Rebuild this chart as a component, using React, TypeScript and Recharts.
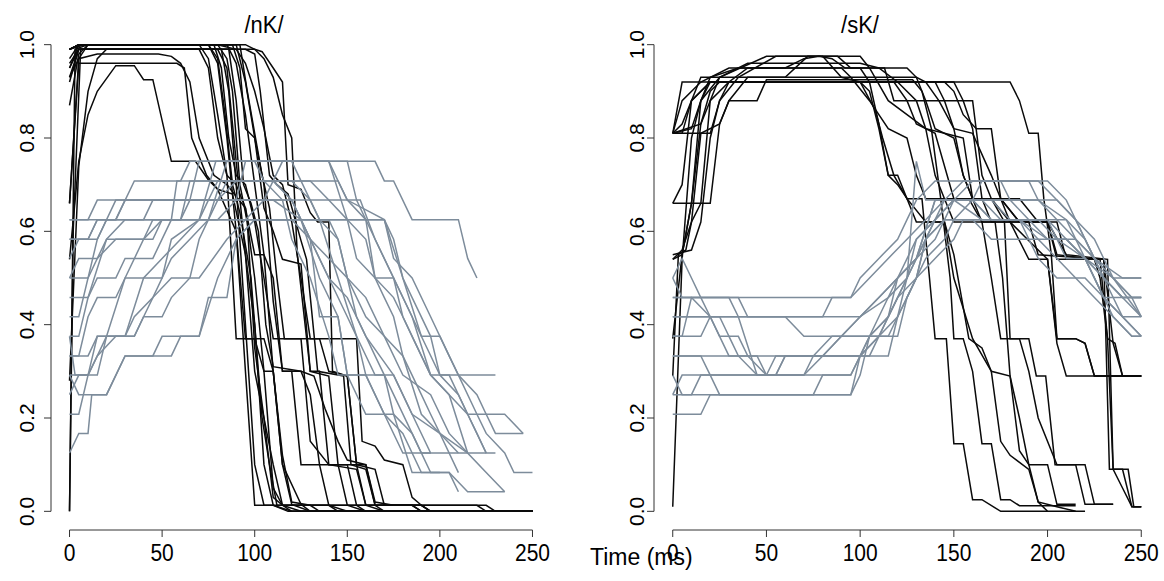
import React from "react"
import { LineChart, Line, XAxis, YAxis, ReferenceLine } from "recharts"

type Pt = [number, number]

const timeTicks = [0, 50, 100, 150, 200, 250]
const valueTicks = [0, 0.2, 0.4, 0.6, 0.8, 1]
const panelTitles = ["/nK/", "/sK/"]
const xLabel = "Time (ms)"

// /nK/ — black trajectories
const nkBlack: Pt[][] = [
  [[0, 0.99], [5, 1], [70, 1], [75, 0.97], [80, 0.85], [85, 0.72], [90, 0.37], [100, 0.37], [105, 0.3], [110, 0.05], [115, 0.013], [220, 0.013], [225, 0], [250, 0]],
  [[0, 0], [3, 0.99], [10, 1], [75, 1], [80, 0.96], [85, 0.8], [90, 0.6], [95, 0.3], [100, 0.013], [185, 0.013], [190, 0], [250, 0]],
  [[0, 0.28], [5, 0.74], [10, 0.9], [15, 0.97], [20, 0.99], [80, 0.99], [85, 0.95], [90, 0.75], [95, 0.55], [100, 0.4], [105, 0.1], [110, 0.013], [120, 0], [250, 0]],
  [[0, 0.54], [5, 0.75], [10, 0.85], [15, 0.9], [25, 0.955], [35, 0.955], [40, 0.925], [45, 0.925], [55, 0.75], [68, 0.75], [75, 0.71], [80, 0.69], [90, 0.6], [95, 0.37], [105, 0.37], [110, 0.3], [115, 0.1], [120, 0.015], [130, 0], [250, 0]],
  [[0, 0.66], [5, 0.96], [58, 0.96], [62, 0.95], [66, 0.8], [74, 0.72], [80, 0.69], [88, 0.68], [95, 0.55], [100, 0.3], [110, 0.1], [115, 0.013], [125, 0], [250, 0]],
  [[0, 0.93], [5, 0.97], [15, 0.98], [48, 0.98], [55, 0.975], [60, 0.96], [65, 0.92], [70, 0.8], [78, 0.72], [85, 0.7], [95, 0.65], [100, 0.5], [105, 0.3], [110, 0.3], [115, 0.1], [125, 0.015], [130, 0], [250, 0]],
  [[0, 0.96], [5, 0.99], [100, 0.99], [104, 0.985], [110, 0.95], [115, 0.92], [118, 0.7], [125, 0.69], [130, 0.64], [134, 0.62], [140, 0.62], [142, 0.3], [150, 0.29], [155, 0.1], [160, 0.1], [165, 0.013], [185, 0.013], [190, 0], [250, 0]],
  [[0, 0.87], [5, 0.98], [10, 1], [88, 1], [92, 0.95], [95, 0.82], [100, 0.8], [105, 0.7], [110, 0.45], [115, 0.3], [125, 0.3], [130, 0.25], [135, 0.1], [145, 0.1], [150, 0.013], [160, 0], [250, 0]],
  [[0, 0.95], [5, 1], [78, 1], [82, 0.95], [86, 0.8], [90, 0.72], [95, 0.7], [100, 0.62], [105, 0.5], [110, 0.37], [135, 0.37], [140, 0.3], [150, 0.29], [155, 0.1], [165, 0.09], [170, 0.013], [190, 0.013], [195, 0]],
  [[0, 0.99], [5, 1], [85, 1], [90, 0.96], [95, 0.85], [100, 0.7], [105, 0.55], [110, 0.5], [115, 0.3], [120, 0.3], [125, 0.1], [135, 0.1], [140, 0.013], [150, 0], [250, 0]],
  [[0, 0.92], [5, 0.99], [82, 0.99], [86, 0.9], [90, 0.7], [95, 0.65], [100, 0.55], [105, 0.55], [110, 0.3], [115, 0.12], [120, 0.02], [130, 0.013], [135, 0], [200, 0]],
  [[0, 0.66], [5, 0.97], [10, 1], [90, 1], [95, 0.92], [100, 0.8], [105, 0.65], [110, 0.6], [115, 0.54], [125, 0.53], [130, 0.3], [140, 0.29], [145, 0.1], [155, 0.1], [160, 0.013], [170, 0], [250, 0]],
  [[0, 0.99], [8, 1], [80, 1], [85, 0.97], [88, 0.9], [92, 0.7], [96, 0.62], [100, 0.35], [105, 0.2], [110, 0.03], [115, 0.013], [120, 0], [250, 0]],
  [[0, 0.99], [5, 1], [92, 1], [96, 0.9], [100, 0.81], [104, 0.72], [108, 0.65], [112, 0.5], [116, 0.37], [125, 0.37], [130, 0.15], [140, 0.1], [155, 0.09], [160, 0.013], [225, 0.013], [230, 0]],
  [[0, 0.97], [5, 1], [75, 1], [80, 0.97], [84, 0.85], [88, 0.7], [92, 0.64], [98, 0.5], [104, 0.2], [108, 0.1], [112, 0.013], [140, 0.013], [145, 0], [250, 0]],
  [[0, 0], [2, 0.6], [6, 0.99], [95, 0.99], [100, 0.98], [103, 0.9], [108, 0.72], [112, 0.7], [118, 0.68], [125, 0.58], [128, 0.54], [134, 0.3], [148, 0.29], [152, 0.1], [160, 0.09], [165, 0.013], [170, 0], [250, 0]],
  [[0, 0.93], [5, 0.99], [86, 0.99], [90, 0.88], [94, 0.7], [98, 0.66], [102, 0.6], [106, 0.4], [110, 0.31], [125, 0.3], [132, 0.29], [138, 0.22], [145, 0.15], [150, 0.11], [160, 0.1], [165, 0.02], [175, 0.013], [190, 0.013], [195, 0]],
  [[0, 0.99], [5, 1], [80, 1], [90, 0.99], [95, 0.96], [100, 0.9], [105, 0.82], [110, 0.72], [115, 0.7], [120, 0.62], [125, 0.5], [130, 0.37], [155, 0.37], [158, 0.15], [165, 0.14], [170, 0.11], [180, 0.1], [185, 0.03], [190, 0.013], [195, 0]],
  [[0, 0.95], [5, 0.99], [70, 0.99], [75, 0.95], [80, 0.8], [85, 0.72], [90, 0.7], [95, 0.4], [100, 0.1], [105, 0.013], [110, 0.013], [118, 0], [250, 0]],
  [[0, 0.99], [5, 1], [95, 1], [100, 0.99], [105, 0.97], [110, 0.93], [115, 0.85], [120, 0.8], [123, 0.55], [130, 0.3], [135, 0.3], [140, 0.1], [150, 0.1], [155, 0.013], [160, 0], [250, 0]],
]

// /nK/ — grey trajectories
const nkGrey: Pt[][] = [
  [[0, 0.125], [5, 0.167], [10, 0.167], [12, 0.25], [20, 0.25], [30, 0.333], [55, 0.333], [60, 0.375], [70, 0.375], [75, 0.458], [85, 0.458], [90, 0.583], [100, 0.625], [140, 0.625], [145, 0.583], [150, 0.5], [155, 0.417], [165, 0.333], [170, 0.292], [175, 0.208], [185, 0.167], [190, 0.125], [195, 0.125]],
  [[0, 0.5], [10, 0.5], [15, 0.542], [25, 0.583], [45, 0.583], [50, 0.625], [70, 0.625], [79, 0.75], [165, 0.75], [170, 0.708], [175, 0.708], [185, 0.625], [210, 0.625], [215, 0.542], [220, 0.5]],
  [[0, 0.417], [5, 0.417], [15, 0.583], [20, 0.625], [40, 0.625], [45, 0.667], [65, 0.667], [70, 0.75], [140, 0.75], [145, 0.708], [150, 0.667], [170, 0.625], [175, 0.583], [180, 0.5], [190, 0.375], [200, 0.292], [230, 0.292]],
  [[0, 0.292], [10, 0.292], [15, 0.333], [20, 0.375], [35, 0.375], [40, 0.417], [50, 0.417], [55, 0.458], [65, 0.5], [70, 0.583], [75, 0.625], [85, 0.708], [145, 0.708], [150, 0.667], [160, 0.625], [165, 0.5], [175, 0.458], [180, 0.417], [185, 0.375], [195, 0.292], [205, 0.25], [215, 0.208], [225, 0.208], [230, 0.167], [245, 0.167]],
  [[0, 0.375], [5, 0.375], [10, 0.458], [15, 0.5], [25, 0.5], [30, 0.542], [45, 0.542], [55, 0.625], [58, 0.708], [110, 0.708], [120, 0.667], [130, 0.583], [135, 0.417], [145, 0.417], [150, 0.292], [175, 0.292], [185, 0.208], [195, 0.125], [215, 0.125]],
  [[0, 0.625], [10, 0.625], [15, 0.667], [110, 0.667], [125, 0.625], [130, 0.583], [140, 0.5], [150, 0.417], [155, 0.375], [160, 0.292], [170, 0.208], [180, 0.167], [190, 0.083], [205, 0.083], [210, 0.042]],
  [[0, 0.583], [15, 0.583], [25, 0.667], [80, 0.667], [90, 0.708], [120, 0.708], [130, 0.667], [157, 0.667], [165, 0.583], [175, 0.5], [185, 0.417], [190, 0.375], [200, 0.375], [205, 0.333], [210, 0.292], [220, 0.208], [225, 0.167], [235, 0.125], [240, 0.083], [250, 0.083]],
  [[0, 0.333], [5, 0.333], [10, 0.417], [15, 0.458], [25, 0.458], [30, 0.5], [40, 0.583], [50, 0.625], [70, 0.625], [75, 0.667], [120, 0.667], [125, 0.625], [135, 0.5], [145, 0.417], [150, 0.292], [160, 0.208], [175, 0.208], [185, 0.083], [205, 0.083], [215, 0.042], [235, 0.042]],
  [[0, 0.25], [5, 0.292], [15, 0.292], [20, 0.375], [30, 0.375], [40, 0.5], [50, 0.542], [60, 0.583], [70, 0.625], [170, 0.625], [180, 0.5], [185, 0.458], [195, 0.375], [200, 0.292], [210, 0.25], [215, 0.208], [225, 0.125]],
  [[0, 0.208], [5, 0.208], [10, 0.292], [15, 0.333], [25, 0.375], [35, 0.375], [40, 0.417], [45, 0.458], [55, 0.5], [70, 0.5], [85, 0.583], [95, 0.625], [105, 0.667], [115, 0.75], [150, 0.75], [155, 0.667], [165, 0.583], [175, 0.5], [180, 0.417], [190, 0.333], [195, 0.292], [205, 0.25], [215, 0.125], [225, 0.083], [235, 0.042]],
  [[0, 0.5], [5, 0.542], [15, 0.542], [20, 0.583], [30, 0.625], [60, 0.625], [65, 0.667], [90, 0.667], [95, 0.75], [140, 0.75], [150, 0.625], [160, 0.583], [165, 0.5], [170, 0.458], [175, 0.417], [180, 0.333], [190, 0.25], [195, 0.208], [200, 0.167], [210, 0.125]],
  [[0, 0.542], [5, 0.583], [10, 0.583], [15, 0.625], [25, 0.625], [30, 0.667], [75, 0.667], [80, 0.708], [130, 0.708], [140, 0.667], [150, 0.625], [155, 0.542], [165, 0.5], [175, 0.5], [185, 0.417], [195, 0.292], [205, 0.292], [215, 0.208], [220, 0.167], [225, 0.125], [230, 0.125]],
  [[0, 0.333], [10, 0.333], [15, 0.375], [30, 0.375], [35, 0.417], [45, 0.458], [55, 0.542], [65, 0.583], [75, 0.625], [85, 0.75], [120, 0.75], [125, 0.708], [135, 0.625], [145, 0.5], [155, 0.375], [165, 0.292], [170, 0.292], [185, 0.167], [195, 0.083], [200, 0.083]],
  [[0, 0.375], [3, 0.292], [10, 0.292], [15, 0.375], [20, 0.375], [30, 0.5], [50, 0.5], [55, 0.583], [70, 0.625], [80, 0.625], [90, 0.667], [130, 0.667], [135, 0.625], [145, 0.583], [150, 0.5], [160, 0.458], [170, 0.375], [180, 0.292], [195, 0.25], [205, 0.167], [215, 0.125]],
  [[0, 0.458], [10, 0.458], [20, 0.583], [40, 0.583], [45, 0.625], [60, 0.625], [65, 0.708], [110, 0.708], [120, 0.667], [130, 0.583], [140, 0.542], [150, 0.5], [160, 0.417], [170, 0.375], [180, 0.333], [190, 0.208], [200, 0.167], [215, 0.125], [225, 0.125]],
  [[0, 0.625], [170, 0.625], [175, 0.542], [185, 0.5], [195, 0.417], [205, 0.333], [210, 0.292], [220, 0.25], [225, 0.208], [235, 0.208], [245, 0.167]],
  [[0, 0.583], [10, 0.583], [15, 0.625], [25, 0.625], [35, 0.708], [60, 0.708], [65, 0.75], [100, 0.75], [105, 0.708], [115, 0.667], [120, 0.583], [130, 0.5], [140, 0.375], [145, 0.292], [160, 0.292], [170, 0.208], [180, 0.125], [195, 0.125]],
  [[0, 0.292], [5, 0.25], [20, 0.25], [30, 0.333], [45, 0.333], [50, 0.375], [70, 0.375], [80, 0.5], [90, 0.583], [100, 0.625], [120, 0.625], [130, 0.583], [140, 0.5], [150, 0.458], [160, 0.375], [175, 0.292], [185, 0.208], [200, 0.167], [210, 0.083]],
]

// /sK/ — black trajectories
const skBlack: Pt[][] = [
  [[0, 0.81], [5, 0.92], [180, 0.92], [185, 0.88], [190, 0.81], [195, 0.81], [198, 0.67], [202, 0.55], [205, 0.37], [215, 0.37], [220, 0.36], [225, 0.29], [250, 0.29]],
  [[0, 0.81], [20, 0.81], [25, 0.88], [30, 0.92], [40, 0.95], [100, 0.95], [105, 0.92], [110, 0.83], [115, 0.72], [120, 0.72], [125, 0.67], [133, 0.67], [137, 0.5], [140, 0.37], [146, 0.37], [150, 0.145], [155, 0.145], [160, 0.025], [165, 0.025], [175, 0], [200, 0]],
  [[0, 0.66], [20, 0.66], [25, 0.83], [30, 0.88], [45, 0.88], [50, 0.925], [128, 0.925], [133, 0.9], [138, 0.82], [143, 0.67], [148, 0.5], [150, 0.37], [155, 0.37], [160, 0.3], [165, 0.145], [170, 0.145], [175, 0.025], [180, 0.025], [185, 0.012], [215, 0.012]],
  [[0, 0.54], [5, 0.55], [10, 0.66], [15, 0.83], [20, 0.9], [25, 0.92], [118, 0.92], [125, 0.88], [130, 0.83], [140, 0.81], [150, 0.67], [158, 0.67], [165, 0.62], [172, 0.62], [176, 0.5], [180, 0.29], [185, 0.13], [190, 0.1], [195, 0.02], [200, 0], [220, 0]],
  [[0, 0.81], [5, 0.81], [10, 0.88], [15, 0.93], [60, 0.93], [72, 0.975], [88, 0.975], [95, 0.95], [113, 0.95], [118, 0.88], [160, 0.88], [165, 0.72], [170, 0.67], [177, 0.62], [180, 0.37], [190, 0.37], [194, 0.29], [199, 0.29], [204, 0.1], [220, 0.1], [225, 0.015], [235, 0.015]],
  [[0, 0.37], [5, 0.55], [10, 0.66], [15, 0.88], [25, 0.93], [50, 0.975], [100, 0.975], [105, 0.95], [115, 0.88], [125, 0.85], [135, 0.82], [145, 0.81], [155, 0.8], [160, 0.67], [170, 0.67], [180, 0.62], [200, 0.62], [205, 0.54], [228, 0.54], [232, 0.37], [235, 0.09], [243, 0.09], [246, 0.01], [250, 0.01]],
  [[0, 0.29], [3, 0.55], [7, 0.56], [10, 0.62], [15, 0.66], [20, 0.88], [30, 0.92], [140, 0.92], [145, 0.88], [150, 0.82], [155, 0.72], [160, 0.67], [185, 0.67], [195, 0.62], [205, 0.62], [210, 0.54], [230, 0.54], [235, 0.36], [240, 0.29], [250, 0.29]],
  [[0, 0.01], [5, 0.54], [10, 0.8], [15, 0.88], [20, 0.92], [150, 0.92], [155, 0.88], [160, 0.82], [165, 0.67], [170, 0.62], [180, 0.62], [190, 0.58], [200, 0.54], [205, 0.37], [215, 0.37], [220, 0.36], [225, 0.29], [250, 0.29]],
  [[0, 0.81], [15, 0.83], [20, 0.88], [25, 0.93], [40, 0.96], [100, 0.96], [110, 0.95], [120, 0.92], [130, 0.88], [135, 0.82], [140, 0.72], [145, 0.67], [160, 0.67], [165, 0.62], [190, 0.62], [195, 0.55], [230, 0.54], [233, 0.09], [240, 0.09], [245, 0.01], [250, 0.01]],
  [[0, 0.55], [10, 0.56], [15, 0.62], [20, 0.8], [25, 0.88], [35, 0.93], [55, 0.975], [80, 0.975], [90, 0.93], [100, 0.92], [108, 0.86], [112, 0.8], [118, 0.72], [125, 0.67], [130, 0.62], [145, 0.62], [150, 0.55], [158, 0.37], [165, 0.35], [170, 0.3], [175, 0.15], [180, 0.12], [190, 0.09], [195, 0.02], [205, 0.01], [215, 0]],
  [[0, 0.81], [10, 0.82], [15, 0.88], [20, 0.93], [35, 0.95], [60, 0.95], [70, 0.97], [78, 0.975], [85, 0.97], [92, 0.95], [125, 0.95], [130, 0.93], [135, 0.88], [140, 0.82], [150, 0.8], [155, 0.72], [160, 0.67], [175, 0.67], [180, 0.62], [190, 0.54], [200, 0.54], [205, 0.36], [210, 0.29], [250, 0.29]],
  [[0, 0.66], [5, 0.7], [10, 0.88], [20, 0.92], [100, 0.92], [105, 0.9], [110, 0.82], [115, 0.72], [120, 0.7], [125, 0.67], [135, 0.62], [145, 0.62], [150, 0.5], [160, 0.37], [170, 0.3], [180, 0.29], [185, 0.2], [190, 0.1], [200, 0.1], [205, 0.015], [215, 0.015]],
  [[0, 0.54], [5, 0.56], [10, 0.62], [15, 0.81], [25, 0.83], [30, 0.88], [40, 0.93], [130, 0.93], [135, 0.92], [142, 0.88], [150, 0.82], [160, 0.81], [170, 0.72], [175, 0.67], [185, 0.62], [200, 0.62], [205, 0.55], [225, 0.54], [228, 0.5], [232, 0.37], [236, 0.36], [240, 0.29], [250, 0.29]],
  [[0, 0.81], [5, 0.88], [15, 0.92], [30, 0.95], [90, 0.95], [95, 0.93], [105, 0.88], [115, 0.82], [125, 0.8], [130, 0.72], [135, 0.67], [145, 0.67], [150, 0.62], [165, 0.62], [170, 0.5], [175, 0.37], [185, 0.37], [190, 0.3], [195, 0.2], [205, 0.1], [215, 0.1], [220, 0.015], [235, 0.015]],
  [[0, 0.81], [5, 0.83], [10, 0.88], [20, 0.92], [145, 0.92], [150, 0.9], [155, 0.85], [162, 0.82], [170, 0.82], [175, 0.67], [185, 0.62], [200, 0.62], [210, 0.55], [232, 0.54], [235, 0.09], [240, 0.05], [245, 0.01], [250, 0.01]],
]

// /sK/ — grey trajectories
const skGrey: Pt[][] = [
  [[0, 0.208], [15, 0.208], [20, 0.25], [95, 0.25], [100, 0.333], [110, 0.375], [120, 0.417], [130, 0.5], [135, 0.583], [145, 0.625], [200, 0.625], [210, 0.583], [220, 0.542], [235, 0.5], [250, 0.417]],
  [[0, 0.25], [5, 0.292], [95, 0.292], [100, 0.333], [110, 0.375], [115, 0.417], [120, 0.5], [130, 0.542], [140, 0.667], [165, 0.667], [175, 0.625], [210, 0.625], [220, 0.583], [230, 0.5], [240, 0.458], [250, 0.458]],
  [[0, 0.5], [5, 0.458], [95, 0.458], [100, 0.5], [110, 0.542], [120, 0.583], [125, 0.625], [130, 0.667], [140, 0.708], [175, 0.708], [180, 0.667], [195, 0.667], [205, 0.625], [215, 0.583], [225, 0.542], [240, 0.5], [250, 0.5]],
  [[0, 0.417], [80, 0.417], [85, 0.458], [95, 0.458], [105, 0.5], [115, 0.542], [125, 0.583], [135, 0.625], [145, 0.667], [180, 0.667], [190, 0.625], [200, 0.625], [210, 0.542], [220, 0.542], [230, 0.458], [235, 0.417], [245, 0.375], [250, 0.375]],
  [[0, 0.333], [115, 0.333], [120, 0.417], [125, 0.5], [130, 0.75], [135, 0.667], [160, 0.667], [170, 0.625], [190, 0.625], [200, 0.583], [210, 0.583], [220, 0.542], [230, 0.458], [240, 0.417], [250, 0.417]],
  [[0, 0.458], [30, 0.458], [35, 0.417], [45, 0.292], [55, 0.292], [60, 0.333], [80, 0.333], [90, 0.375], [100, 0.417], [115, 0.458], [125, 0.5], [130, 0.542], [140, 0.583], [150, 0.667], [160, 0.708], [195, 0.708], [205, 0.667], [215, 0.625], [225, 0.542], [235, 0.5], [245, 0.458], [250, 0.417]],
  [[0, 0.292], [5, 0.25], [95, 0.25], [100, 0.292], [105, 0.375], [115, 0.417], [120, 0.458], [125, 0.5], [135, 0.583], [145, 0.625], [160, 0.625], [170, 0.583], [210, 0.583], [220, 0.542], [230, 0.5], [240, 0.458], [250, 0.458]],
  [[0, 0.375], [15, 0.375], [20, 0.417], [25, 0.417], [30, 0.375], [35, 0.375], [40, 0.333], [50, 0.292], [55, 0.292], [60, 0.333], [75, 0.333], [85, 0.375], [120, 0.375], [125, 0.458], [135, 0.542], [145, 0.583], [150, 0.625], [160, 0.667], [205, 0.667], [215, 0.625], [225, 0.583], [235, 0.5], [245, 0.458], [250, 0.458]],
  [[0, 0.417], [20, 0.417], [25, 0.375], [30, 0.375], [35, 0.333], [45, 0.292], [50, 0.292], [55, 0.333], [105, 0.333], [110, 0.375], [115, 0.417], [125, 0.5], [130, 0.583], [140, 0.625], [150, 0.667], [160, 0.667], [170, 0.625], [185, 0.625], [195, 0.583], [205, 0.542], [215, 0.5], [225, 0.458], [235, 0.417], [245, 0.375], [250, 0.375]],
  [[0, 0.375], [5, 0.375], [10, 0.458], [35, 0.458], [40, 0.417], [100, 0.417], [110, 0.458], [120, 0.5], [130, 0.542], [140, 0.625], [145, 0.667], [155, 0.708], [190, 0.708], [195, 0.667], [210, 0.625], [220, 0.542], [230, 0.5], [240, 0.458], [250, 0.417]],
  [[0, 0.5], [5, 0.542], [10, 0.5], [15, 0.458], [20, 0.417], [25, 0.375], [30, 0.333], [45, 0.333], [50, 0.292], [70, 0.292], [75, 0.333], [100, 0.333], [105, 0.375], [115, 0.417], [120, 0.458], [130, 0.5], [140, 0.542], [150, 0.583], [155, 0.625], [185, 0.625], [195, 0.542], [205, 0.5], [220, 0.5], [230, 0.458], [250, 0.458]],
  [[0, 0.333], [15, 0.333], [20, 0.292], [25, 0.25], [75, 0.25], [80, 0.292], [95, 0.292], [100, 0.333], [110, 0.417], [120, 0.5], [130, 0.542], [140, 0.667], [150, 0.667], [165, 0.625], [185, 0.625], [200, 0.583], [215, 0.583], [225, 0.542], [235, 0.5], [250, 0.5]],
  [[0, 0.458], [10, 0.458], [20, 0.417], [60, 0.417], [70, 0.375], [115, 0.375], [120, 0.417], [125, 0.458], [130, 0.5], [135, 0.583], [140, 0.625], [150, 0.667], [170, 0.667], [180, 0.625], [195, 0.625], [205, 0.583], [220, 0.542], [230, 0.458], [240, 0.417], [250, 0.375]],
  [[0, 0.25], [10, 0.25], [15, 0.292], [70, 0.292], [80, 0.333], [90, 0.375], [100, 0.417], [110, 0.458], [120, 0.5], [130, 0.583], [140, 0.625], [150, 0.667], [160, 0.667], [165, 0.708], [200, 0.708], [210, 0.667], [220, 0.583], [230, 0.5], [240, 0.417], [250, 0.375]],
]

const BLACK = "#0a0a0a"
const GREY = "#7d8c9b"
const FONT = "'Liberation Sans', Arial, Helvetica, sans-serif"

const toRows = (pts: Pt[]) => pts.map(([t, v]) => ({ t, v }))

const XTick = ({ x, y, payload }: any) => (
  <text
    transform={`translate(${x},${y + 22}) scale(1,1.18)`}
    textAnchor="middle"
    fontSize={21}
    fontFamily={FONT}
    fill="#000"
  >
    {payload.value}
  </text>
)

const makeYTick = (gap: number) => ({ x, y, payload }: any) => {
  const bx = x + 9 - gap
  return (
    <text
      transform={`translate(${bx},${y}) rotate(-90)`}
      textAnchor="middle"
      fontSize={21}
      fontFamily={FONT}
      fill="#000"
    >
      {Number(payload.value).toFixed(1)}
    </text>
  )
}

interface PanelProps {
  black: Pt[][]
  grey: Pt[][]
  left: number
  width: number
  yAxisWidth: number
  rightMargin: number
  labelGap: number
}

function Panel({ black, grey, left, width, yAxisWidth, rightMargin, labelGap }: PanelProps) {
  return (
    <div style={{ position: "absolute", left, top: 0 }}>
      <LineChart width={width} height={581} margin={{ top: 26, right: rightMargin, bottom: 0, left: 0 }}>
        <XAxis
          type="number"
          dataKey="t"
          domain={[-10, 260]}
          ticks={timeTicks}
          allowDataOverflow
          axisLine={false}
          tickLine={{ stroke: "#333" }}
          tickSize={7}
          tickMargin={2}
          height={51}
          tick={<XTick />}
          interval={0}
        />
        <YAxis
          type="number"
          dataKey="v"
          domain={[-0.04, 1.04]}
          ticks={valueTicks}
          allowDataOverflow
          axisLine={false}
          tickLine={{ stroke: "#333" }}
          tickSize={7}
          tickMargin={2}
          width={yAxisWidth}
          tick={makeYTick(labelGap)}
          interval={0}
        />
        <ReferenceLine segment={[{ x: 0, y: -0.04 }, { x: 250, y: -0.04 }]} stroke="#333" strokeWidth={1} />
        <ReferenceLine segment={[{ x: -10, y: 0 }, { x: -10, y: 1 }]} stroke="#333" strokeWidth={1} />
        {black.map((pts, i) => (
          <Line
            key={`b${i}`}
            data={toRows(pts)}
            dataKey="v"
            stroke={BLACK}
            strokeWidth={1.5}
            dot={false}
            activeDot={false}
            type="linear"
            isAnimationActive={false}
          />
        ))}
        {grey.map((pts, i) => (
          <Line
            key={`g${i}`}
            data={toRows(pts)}
            dataKey="v"
            stroke={GREY}
            strokeWidth={1.5}
            dot={false}
            activeDot={false}
            type="linear"
            isAnimationActive={false}
          />
        ))}
      </LineChart>
    </div>
  )
}

export default function App() {
  return (
    <div style={{ position: "absolute", left: 0, top: 0, width: 1164, height: 581, background: "#fff", fontFamily: FONT }}>
      <Panel black={nkBlack} grey={nkGrey} left={0} width={580} yAxisWidth={51} rightMargin={29} labelGap={17} />
      <Panel black={skBlack} grey={skGrey} left={580} width={584} yAxisWidth={74} rightMargin={4} labelGap={10} />
      <svg width={1164} height={581} style={{ position: "absolute", left: 0, top: 0, pointerEvents: "none" }}>
        <text transform="translate(264,33) scale(1,1.12)" textAnchor="middle" fontSize={22} fontFamily={FONT}>
          {panelTitles[0]}
        </text>
        <text transform="translate(860,33) scale(1,1.12)" textAnchor="middle" fontSize={22} fontFamily={FONT}>
          {panelTitles[1]}
        </text>
        <text x={590} y={565} fontSize={23} fontFamily={FONT}>
          {xLabel}
        </text>
      </svg>
    </div>
  )
}
